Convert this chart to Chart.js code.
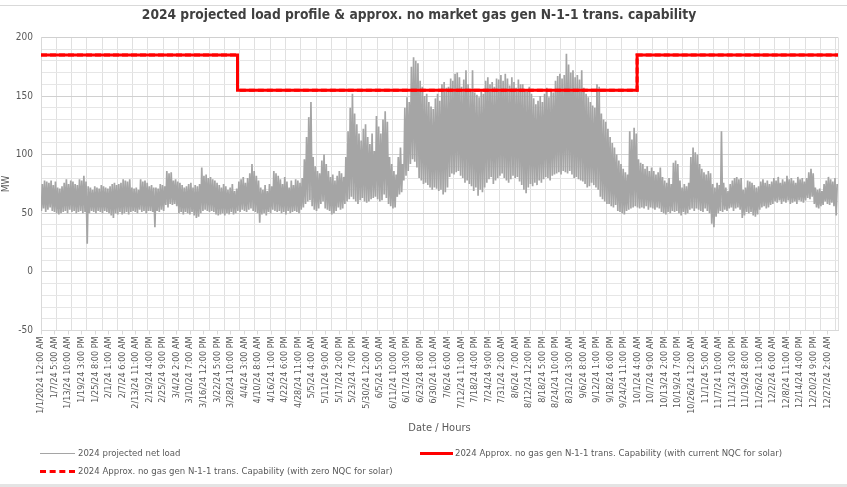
<!DOCTYPE html>
<html><head><meta charset="utf-8">
<script src="https://cdn.jsdelivr.net/npm/chart.js@4/dist/chart.umd.min.js"></script>
<style>
html,body{margin:0;padding:0;background:#fff;}
#wrap{position:relative;width:847px;height:487px;overflow:hidden;background:#fff;}
#c{position:absolute;left:0;top:0;}
.lg{position:absolute;font-family:"Liberation Sans Narrow","DejaVu Sans Condensed","Liberation Sans",sans-serif;font-size:9.5px;color:#595959;white-space:nowrap;line-height:12px;}
.sw{position:absolute;height:0;}
#topline{position:absolute;left:0;top:5px;width:847px;height:1px;background:#d9d9d9;}
#botband{position:absolute;left:0;top:484px;width:847px;height:3px;background:#e4e4e4;}
</style></head><body>
<div id="wrap">
<canvas id="c" width="847" height="487"></canvas>
<div id="topline"></div>
<div class="sw" style="left:40px;top:453px;width:35px;border-top:1px solid #a5a5a5;"></div>
<div class="lg" style="left:78px;top:447px;">2024 projected net load</div>
<div class="sw" style="left:420px;top:452px;width:33px;border-top:3px solid #ff0000;"></div>
<div class="lg" style="left:455px;top:447px;">2024 Approx. no gas gen N-1-1 trans. Capability (with current NQC for solar)</div>
<div class="sw" style="left:40px;top:470px;width:35px;border-top:3px dashed #ff0000;"></div>
<div class="lg" style="left:78px;top:465px;">2024 Approx. no gas gen N-1-1 trans. Capability (with zero NQC for solar)</div>
<div id="botband"></div>
</div>
<script>
const FONT = '"Liberation Sans Narrow","DejaVu Sans Condensed","Liberation Sans",sans-serif';

// X-axis tick labels (one every 149 hours)
const tickLabels = ["1/1/2024 12:00 AM","1/7/24 5:00 AM","1/13/24 10:00 AM","1/19/24 3:00 PM","1/25/24 8:00 PM","2/1/24 1:00 AM","2/7/24 6:00 AM","2/13/24 11:00 AM","2/19/24 4:00 PM","2/25/24 9:00 PM","3/4/24 2:00 AM","3/10/24 7:00 AM","3/16/24 12:00 PM","3/22/24 5:00 PM","3/28/24 10:00 PM","4/4/24 3:00 AM","4/10/24 8:00 AM","4/16/24 1:00 PM","4/22/24 6:00 PM","4/28/24 11:00 PM","5/5/24 4:00 AM","5/11/24 9:00 AM","5/17/24 2:00 PM","5/23/24 7:00 PM","5/30/24 12:00 AM","6/5/24 5:00 AM","6/11/24 10:00 AM","6/17/24 3:00 PM","6/23/24 8:00 PM","6/30/24 1:00 AM","7/6/24 6:00 AM","7/12/24 11:00 AM","7/18/24 4:00 PM","7/24/24 9:00 PM","7/31/24 2:00 AM","8/6/24 7:00 AM","8/12/24 12:00 PM","8/18/24 5:00 PM","8/24/24 10:00 PM","8/31/24 3:00 AM","9/6/24 8:00 AM","9/12/24 1:00 PM","9/18/24 6:00 PM","9/24/24 11:00 PM","10/1/24 4:00 AM","10/7/24 9:00 AM","10/13/24 2:00 PM","10/19/24 7:00 PM","10/26/24 12:00 AM","11/1/24 5:00 AM","11/7/24 10:00 AM","11/13/24 3:00 PM","11/19/24 8:00 PM","11/26/24 1:00 AM","12/2/24 6:00 AM","12/8/24 11:00 AM","12/14/24 4:00 PM","12/20/24 9:00 PM","12/27/24 2:00 AM"];
const labelStepHours = 149;
const gridStepHours = 168;
const totalHours = 8760;

// Daily peak of projected net load (MW)
const dailyHigh = [
75,78,77,76,78,74,77,72,71,73,
76,79,75,78,77,75,74,79,78,82,
77,73,72,70,73,72,71,74,73,72,
71,73,75,76,74,75,76,79,78,77,
79,72,71,72,70,79,77,78,76,73,
74,72,72,71,75,74,73,86,84,85,
78,79,77,76,74,72,73,75,76,72,
74,73,75,89,82,83,80,81,79,78,
76,74,72,75,73,70,72,75,69,71,
77,79,81,76,80,84,92,86,82,78,
72,70,74,69,75,73,86,84,82,79,
75,81,77,72,78,74,79,78,76,80,
96,115,132,145,98,90,86,84,95,100,
92,86,81,83,78,82,86,84,81,98,
120,140,152,135,126,118,112,122,126,115,
109,118,103,133,124,118,130,137,128,98,
92,86,83,98,106,92,140,149,145,175,
183,180,178,163,158,150,152,145,141,139,
148,152,146,160,162,157,158,165,163,169,
170,166,158,164,172,160,155,172,153,151,
149,155,152,163,166,160,162,158,165,164,
168,163,169,165,159,166,162,157,164,160,
160,156,154,158,152,148,143,146,150,145,
152,157,149,155,153,163,167,169,165,168,
186,177,170,172,166,168,164,172,157,152,
149,145,142,140,160,158,135,130,128,122,
115,110,106,100,95,92,88,85,83,120,
113,123,118,96,93,92,88,90,86,89,
86,83,85,89,81,78,76,80,75,93,
95,92,78,72,75,73,76,98,106,102,
100,92,88,85,83,86,84,75,72,76,
74,120,76,72,69,75,78,80,81,79,
80,70,72,78,77,76,74,72,73,77,
79,76,78,75,77,80,78,81,76,79,
77,82,79,80,78,76,81,79,80,77,
80,85,88,84,72,70,71,69,75,78,
81,79,77,80,75];

// Daily minimum of projected net load (MW)
const dailyLow = [
52,54,51,53,55,52,51,50,49,50,
51,52,50,53,51,52,50,51,52,50,
51,24,50,52,51,50,52,51,50,52,
51,50,48,46,50,49,51,49,50,51,
49,51,52,51,50,53,51,52,50,52,
52,51,38,52,51,53,52,57,55,58,
57,58,56,50,51,49,51,50,49,51,
48,46,47,50,52,53,52,51,52,51,
49,48,49,50,48,50,49,51,49,50,
52,51,53,52,51,53,54,52,51,50,
42,49,50,48,51,50,53,52,51,52,
50,51,49,52,50,51,52,51,50,53,
55,58,60,61,56,53,52,54,58,60,
54,53,52,49,50,52,55,53,54,58,
60,62,64,62,60,58,61,63,60,59,
60,62,63,64,62,60,61,66,63,58,
56,54,55,64,66,68,78,82,86,92,
96,94,89,80,78,75,76,74,72,70,
72,71,69,70,66,68,72,81,84,83,
85,86,82,80,76,78,75,73,69,72,
65,70,68,72,76,79,81,75,78,80,
82,84,80,78,76,79,82,80,81,77,
74,70,67,72,75,73,76,74,78,76,
79,81,80,78,82,83,84,85,83,86,
85,84,86,83,80,81,79,78,77,75,
72,73,76,74,72,70,64,62,60,58,
58,56,55,57,52,51,50,49,52,53,
54,55,56,55,54,55,54,56,53,55,
54,53,55,54,51,50,49,51,50,52,
51,52,50,48,51,49,50,53,54,52,
54,53,52,51,54,52,50,41,38,47,
50,52,51,53,52,54,55,52,54,55,
53,46,48,51,50,51,48,47,49,53,
55,56,54,55,57,58,60,59,61,58,
60,59,61,58,59,60,58,61,60,59,
61,63,62,64,58,55,54,56,57,60,
58,57,59,56,48];

const lowHourOfDay = 4;
const highHourOfDay = 15;

// N-1-1 transmission capability (MW): change points in hours
const capHours = [0, 2160, 6552, 8760];
const capCurrentNQC = [185, 155, 185, 185];
const capZeroNQC = [185, 155, 185, 185];

const loadPoints = [];
for (let d = 0; d < dailyHigh.length; d++) {
  loadPoints.push({x: d*24 + lowHourOfDay, y: dailyLow[d]});
  loadPoints.push({x: d*24 + highHourOfDay, y: dailyHigh[d]});
}
const capPts = capHours.map((h,i)=>({x:h, y:capCurrentNQC[i]}));
const capZeroPts = capHours.map((h,i)=>({x:h, y:capZeroNQC[i]}));

new Chart(document.getElementById('c'), {
  type: 'line',
  data: { datasets: [
    {label:'2024 projected net load', data: loadPoints, borderColor:'#a5a5a5', borderWidth:1.7, pointRadius:0, tension:0, order:3},
    {label:'2024 Approx. no gas gen N-1-1 trans. Capability (with zero NQC for solar)', data: capZeroPts, borderColor:'#ff0000', borderWidth:3, borderDash:[6,3], stepped:'before', pointRadius:0, order:2},
    {label:'2024 Approx. no gas gen N-1-1 trans. Capability (with current NQC for solar)', data: capPts, borderColor:'#ff0000', borderWidth:3, stepped:'before', pointRadius:0, order:1}
  ]},
  options: {
    responsive:false, animation:false, devicePixelRatio:1,
    layout:{padding:{left:0,right:9,top:0,bottom:52}},
    plugins:{
      legend:{display:false}, tooltip:{enabled:false},
      title:{display:true, text:'2024 projected load profile & approx. no market gas gen N-1-1 trans. capability', color:'#404040', font:{family:FONT, size:13.7, weight:'bold'}, padding:{top:7,bottom:14}}
    },
    scales:{
      x:{type:'linear', min:0, max:totalHours, position:'bottom',
        afterBuildTicks:(s)=>{ s.ticks = tickLabels.map((t,i)=>({value:i*labelStepHours})); },
        ticks:{autoSkip:false, maxRotation:90, minRotation:90, color:'#595959', font:{family:FONT,size:9}, padding:2, callback:(v,i)=>tickLabels[i]},
        grid:{display:true, drawOnChartArea:false, tickLength:4, color:'#d9d9d9'},
        border:{display:true, color:'#d9d9d9'},
        title:{display:true, text:'Date / Hours', color:'#595959', font:{family:FONT,size:11}, padding:{top:6,bottom:0}}
      },
      xg:{type:'linear', min:0, max:totalHours, position:'bottom',
        afterBuildTicks:(s)=>{ const t=[]; for(let h=0;h<totalHours;h+=gridStepHours) t.push({value:h}); t.push({value:totalHours}); s.ticks=t; },
        ticks:{display:false}, grid:{color:'#e0e0e0', drawTicks:false}, border:{display:false}
      },
      y:{min:-50, max:200,
        afterFit:(s)=>{ s.width = 41; },
        afterBuildTicks:(s)=>{ const t=[]; for(let v=-50; v<=200; v+=10) t.push({value:v}); s.ticks=t; },
        ticks:{autoSkip:false, color:'#595959', font:{family:FONT,size:10}, padding:8, callback:(v)=> (v%50===0? String(v):'')},
        grid:{drawTicks:false, color:(c)=> (c.tick && c.tick.value%50===0 ? '#d0d0d0' : '#e6e6e6')},
        border:{color:'#d9d9d9'},
        title:{display:true, text:'MW', color:'#595959', font:{family:FONT,size:10}, padding:{top:0,bottom:4}}
      }
    }
  }
});
</script>
</body></html>
